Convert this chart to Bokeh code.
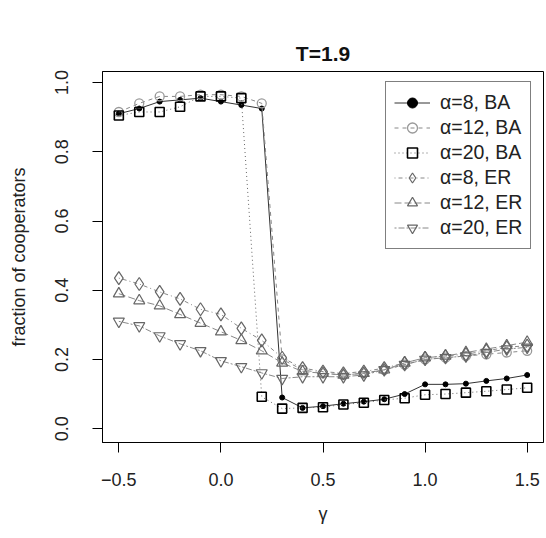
from bokeh.plotting import figure
from bokeh.models import Legend, LegendItem, FixedTicker, Range1d
from bokeh.embed import file_html
from bokeh.resources import INLINE

gamma = [-0.5, -0.4, -0.3, -0.2, -0.1, 0.0, 0.1, 0.2, 0.3, 0.4, 0.5,
         0.6, 0.7, 0.8, 0.9, 1.0, 1.1, 1.2, 1.3, 1.4, 1.5]

ba8 = [0.91, 0.925, 0.945, 0.95, 0.955, 0.945, 0.935, 0.925, 0.09, 0.06, 0.065,
       0.072, 0.078, 0.085, 0.1, 0.128, 0.128, 0.13, 0.138, 0.145, 0.155]
ba12 = [0.915, 0.94, 0.96, 0.96, 0.965, 0.965, 0.96, 0.94, 0.2, 0.17, 0.16,
        0.155, 0.16, 0.17, 0.185, 0.2, 0.205, 0.21, 0.215, 0.22, 0.225]
ba20 = [0.905, 0.915, 0.915, 0.93, 0.96, 0.96, 0.955, 0.092, 0.058, 0.06, 0.062,
        0.07, 0.075, 0.083, 0.088, 0.098, 0.1, 0.104, 0.108, 0.113, 0.118]
er8 = [0.435, 0.418, 0.395, 0.375, 0.345, 0.33, 0.29, 0.255, 0.205, 0.175, 0.165,
       0.16, 0.165, 0.175, 0.19, 0.205, 0.21, 0.215, 0.225, 0.235, 0.24]
er12 = [0.39, 0.37, 0.355, 0.33, 0.305, 0.28, 0.255, 0.225, 0.19, 0.165, 0.16,
        0.155, 0.16, 0.17, 0.19, 0.205, 0.21, 0.22, 0.23, 0.24, 0.25]
er20 = [0.31, 0.297, 0.268, 0.245, 0.225, 0.196, 0.179, 0.161, 0.145, 0.15, 0.15,
        0.15, 0.155, 0.17, 0.185, 0.2, 0.205, 0.21, 0.22, 0.23, 0.235]

labels = ["\u03b1=8, BA", "\u03b1=12, BA", "\u03b1=20, BA",
          "\u03b1=8, ER", "\u03b1=12, ER", "\u03b1=20, ER"]

x_ticks = [-0.5, 0.0, 0.5, 1.0, 1.5]
x_tick_labels = ["\u22120.5", "0.0", "0.5", "1.0", "1.5"]
y_ticks = [0.0, 0.2, 0.4, 0.6, 0.8, 1.0]
y_tick_labels = ["0.0", "0.2", "0.4", "0.6", "0.8", "1.0"]

FONT = "Liberation Sans"

p = figure(width=546, height=538, output_backend="svg", toolbar_location=None,
           x_range=Range1d(-0.58, 1.58), y_range=Range1d(-0.04, 1.032),
           min_border_left=102, min_border_right=3, min_border_top=71,
           min_border_bottom=96)
p.background_fill_color = "white"
p.border_fill_color = "white"
p.outline_line_color = "black"
p.outline_line_width = 1
p.grid.visible = False

p.title.text = "T=1.9"
p.title.align = "center"
p.title.text_font = FONT
p.title.text_font_size = "21px"
p.title.text_font_style = "bold"
p.title.text_color = "#111111"
p.title.standoff = 14

for ax in (p.xaxis[0], p.yaxis[0]):
    ax.axis_line_color = "black"
    ax.major_tick_line_color = "black"
    ax.major_tick_out = 10
    ax.major_tick_in = 0
    ax.minor_tick_out = 0
    ax.minor_tick_in = 0
    ax.major_label_text_font = FONT
    ax.major_label_text_font_size = "18px"
    ax.major_label_text_color = "#222222"
    ax.axis_label_text_font = FONT
    ax.axis_label_text_font_size = "18px"
    ax.axis_label_text_font_style = "normal"
    ax.axis_label_text_color = "#222222"

p.xaxis.ticker = FixedTicker(ticks=x_ticks)
p.xaxis.major_label_overrides = {t: l for t, l in zip(x_ticks, x_tick_labels)}
p.xaxis.major_label_standoff = 20
p.xaxis.axis_label = "\u03b3"
p.xaxis.axis_label_standoff = 15

p.yaxis.ticker = FixedTicker(ticks=y_ticks)
p.yaxis.major_label_overrides = {t: l for t, l in zip(y_ticks, y_tick_labels)}
p.yaxis.major_label_orientation = "vertical"
p.yaxis.major_label_standoff = 24
p.yaxis.axis_label = "fraction of cooperators"
p.yaxis.axis_label_standoff = 24

series = [
    (ba8, "#333333", "solid", dict(marker="circle", size=5, line_color="black",
                                    fill_color="black", line_width=1)),
    (ba12, "#888888", "4 4", dict(marker="circle", size=9, line_color="#999999",
                                   fill_alpha=0, line_width=1.3)),
    (ba20, "#666666", "1 3", dict(marker="square", size=9, line_color="black",
                                   fill_alpha=0, line_width=1.6)),
    (er8, "#888888", "1 3 4 3", dict(marker="diamond", size=13, line_color="#666666",
                                      fill_alpha=0, line_width=1.2)),
    (er12, "#888888", "7 3", dict(marker="triangle", size=11, line_color="#666666",
                                   fill_alpha=0, line_width=1.2)),
    (er20, "#888888", "2 2 6 2", dict(marker="inverted_triangle", size=11,
                                       line_color="#666666", fill_alpha=0,
                                       line_width=1.2)),
]

items = []
for (ys, lc, dash, mk), lab in zip(series, labels):
    lr = p.line(gamma, ys, line_color=lc, line_dash=dash, line_width=1)
    sr = p.scatter(gamma, ys, **mk)
    items.append(LegendItem(label=lab, renderers=[lr, sr]))

legend = Legend(items=items, location=(283, 193))
legend.margin = 0
legend.padding = 8
legend.spacing = 0
legend.label_height = 24
legend.glyph_height = 25
legend.glyph_width = 36
legend.label_standoff = 10
legend.label_text_font = FONT
legend.label_text_font_size = "19.5px"
legend.label_text_color = "#222222"
legend.border_line_color = "black"
legend.border_line_width = 1.5
legend.background_fill_color = "white"
legend.background_fill_alpha = 1
p.add_layout(legend, "center")

open("out.html", "w").write(file_html(p, INLINE))
